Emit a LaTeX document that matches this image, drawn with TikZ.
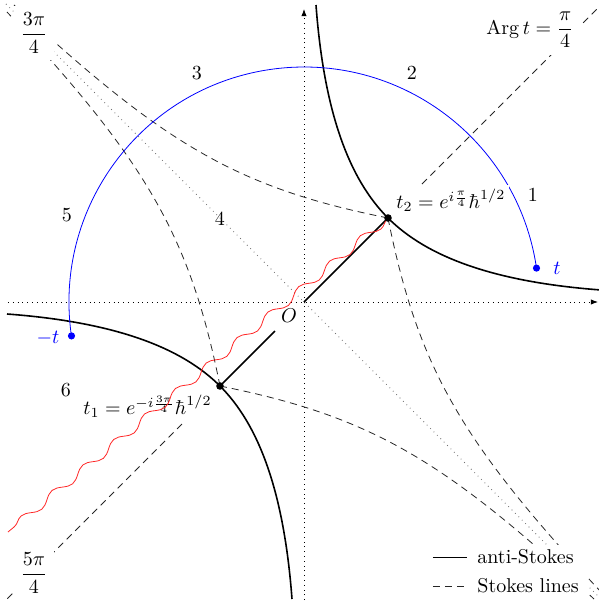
\documentclass[tikz,border=0pt]{standalone}
\usepackage{amsmath}
\usetikzlibrary{decorations.pathmorphing,arrows.meta}
\begin{document}
\begin{tikzpicture}[x=0.5pt,y=0.5pt,
  axis/.style={dotted,-{Latex[length=3.5pt,width=2.6pt]}},
  diag/.style={dotted,black!55},
  stokes/.style={black!85,dash pattern=on 3.5pt off 2.5pt},
  anti/.style={black,thick},
  wavy/.style={red!85,decorate,decoration={snake,segment length=20pt,amplitude=2pt}},
  tp/.style={circle,fill=black,inner sep=0pt,minimum size=3.8pt},
  bp/.style={circle,fill=blue,inner sep=0pt,minimum size=3.6pt},
  lbl/.style={fill=white}]
\useasboundingbox (-304,-299) rectangle (295,302);
\coordinate (O) at (0,0);
\coordinate (T2) at (84,84);
\coordinate (T1) at (-84,-84);
\coordinate (P) at (232.5,33.9);
\coordinate (M) at (-232.5,-33.9);
% axes
\coordinate (xl) at (-296,0); \coordinate (xr) at (294,0);
\coordinate (yb) at (0,-298); \coordinate (yt) at (0,293);
\draw[axis] (xl) -- (xr);
\draw[axis] (yb) -- (yt);
% diagonal through origin
\coordinate (dtl) at (-298,298); \coordinate (dbr) at (298,-298);
\draw[diag] (dtl) -- (dbr);
% Arg lines
\coordinate (a1) at (118,118); \coordinate (a2) at (300,300);
\draw[stokes] (a1) -- (a2);
\coordinate (b1) at (-122,-122); \coordinate (b2) at (-300,-300);
\draw[stokes] (b1) -- (b2);
% Stokes lines (one drawn, three obtained by symmetry)
\draw[stokes] (T2) .. controls (-66,114) and (-140,157.5) .. (-290,297);
\begin{scope}[cm={0,1,1,0,(0,0)}]
\draw[stokes] (84,84) .. controls (-66,114) and (-140,157.5) .. (-290,297);
\end{scope}
\begin{scope}[rotate=180]
\draw[stokes] (84,84) .. controls (-66,114) and (-140,157.5) .. (-290,297);
\end{scope}
\begin{scope}[cm={0,-1,-1,0,(0,0)}]
\draw[stokes] (84,84) .. controls (-66,114) and (-140,157.5) .. (-290,297);
\end{scope}
% anti-Stokes lines
\coordinate (u1) at (12,297); \coordinate (u2) at (297,12);
\coordinate (v1) at (-12,-297); \coordinate (v2) at (-297,-12);
\draw[anti] (u1) .. controls (20,190) and (45,123) .. (T2) .. controls (123,45) and (190,20) .. (u2);
\draw[anti] (v1) .. controls (-20,-190) and (-45,-123) .. (T1) .. controls (-123,-45) and (-190,-20) .. (v2);
\coordinate (T1e) at (-29,-29);
\draw[anti] (T2) -- (O);
\draw[anti] (T1) -- (T1e);
% blue path
\draw[blue] (P) arc[start angle=8.3,end angle=188.3,radius=117.5pt];
% labels with white background
\node[lbl,anchor=south west,inner sep=2pt] (L2) at (88,86) {$t_2 = e^{i\frac{\pi}{4}}\hbar^{1/2}$};
\node[lbl,anchor=north east,inner sep=2pt] (L1) at (-88,-89) {$t_1 = e^{-i\frac{3\pi}{4}}\hbar^{1/2}$};
\node[lbl] (arg) at (226,272) {$\operatorname{Arg} t = \dfrac{\pi}{4}$};
\node[lbl] (f3) at (-270,269) {$\dfrac{3\pi}{4}$};
\node[lbl] (f5) at (-270,-271) {$\dfrac{5\pi}{4}$};
% legend
\node[fill=white,minimum width=81.5pt,minimum height=28pt,inner sep=0pt] (leg) at (202.5,-271) {};
\coordinate (l1a) at (129,-255); \coordinate (l1b) at (163,-255);
\draw[black] (l1a) -- (l1b);
\node[anchor=west,inner sep=0pt] (lt1) at (173,-255) {anti-Stokes};
\coordinate (l2a) at (129,-284); \coordinate (l2b) at (163,-284);
\draw[stokes] (l2a) -- (l2b);
\node[anchor=west,inner sep=0pt] (lt2) at (173,-284) {Stokes lines};
% branch cut
\coordinate (rw) at (-296,-230);
\draw[wavy] (T2) -- (rw);
% points
\node[tp] (t2) at (T2) {};
\node[tp] (t1) at (T1) {};
\node[bp] (tpt) at (P) {};
\node[bp] (tmt) at (M) {};
\node[text=blue] (tl) at (253,34) {$t$};
\node[text=blue] (mtl) at (-256,-36) {$-t$};
\node[anchor=north east] (Ol) at (O) {$O$};
% region numbers
\node (n1) at (229,107) {1};
\node (n2) at (108,229) {2};
\node (n3) at (-107,229) {3};
\node (n4) at (-84,83) {4};
\node (n5) at (-237,87) {5};
\node (n6) at (-238,-88) {6};
\end{tikzpicture}
\end{document}
